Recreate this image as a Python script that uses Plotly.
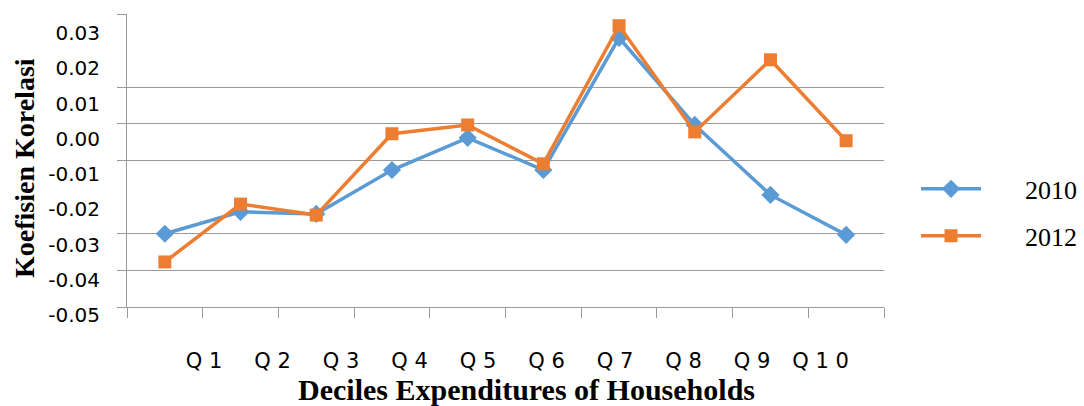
import plotly.graph_objects as go

# ---- data ----
categories = ["Q1", "Q2", "Q3", "Q4", "Q5", "Q6", "Q7", "Q8", "Q9", "Q10"]
x_tick_labels = ["Q 1", "Q 2", "Q 3", "Q 4", "Q 5", "Q 6", "Q 7", "Q 8", "Q 9", "Q 1 0"]
values_2010 = [-0.0300, -0.0240, -0.0246, -0.0126, -0.0038, -0.0126, 0.0235, -0.0003, -0.0194, -0.0303]
values_2012 = [-0.0377, -0.0219, -0.0249, -0.0027, -0.0003, -0.0109, 0.0268, -0.0022, 0.0175, -0.0046]
y_tick_values = [0.03, 0.02, 0.01, 0.00, -0.01, -0.02, -0.03, -0.04, -0.05]
y_tick_labels = ["0.03", "0.02", "0.01", "0.00", "-0.01", "-0.02", "-0.03", "-0.04", "-0.05"]
grid_values = [0.03, 0.01, 0.00, -0.01, -0.03, -0.04, -0.05]
series_names = ["2010", "2012"]

BLUE = "#5B9BD5"
ORANGE = "#ED7D31"
GRID = "#9A9A9A"
PAD = "\u00a0" * 6  # gap between legend symbol and text

fig = go.Figure()
fig.add_trace(go.Scatter(
    x=categories, y=values_2010, name=PAD + series_names[0], mode="lines+markers",
    line=dict(color=BLUE, width=3.5),
    marker=dict(symbol="diamond", size=14, color=BLUE),
    legendgroup="a",
))
fig.add_trace(go.Scatter(
    x=categories, y=values_2012, name=PAD + series_names[1], mode="lines+markers",
    line=dict(color=ORANGE, width=3.5),
    marker=dict(symbol="square", size=13, color=ORANGE),
    legendgroup="b",
))
# empty helper trace so the label-only axes (x2/y2) are drawn
fig.add_trace(go.Scatter(x=[], y=[], xaxis="x2", yaxis="y2", showlegend=False, hoverinfo="skip"))

fig.update_layout(
    width=1084, height=406,
    margin=dict(l=127, r=200, t=14, b=86, autoexpand=False),
    paper_bgcolor="white", plot_bgcolor="rgba(0,0,0,0)",
    xaxis=dict(
        type="category", categoryorder="array", categoryarray=categories,
        range=[-0.5, 9.5], showgrid=False, zeroline=False,
        showline=True, linecolor=GRID, linewidth=1,
        ticks="outside", tickson="boundaries", ticklen=10, tickcolor=GRID,
        showticklabels=False, anchor="y",
    ),
    yaxis=dict(
        domain=[13 / 306, 1],
        range=[-0.05, 0.03], tickvals=grid_values, showticklabels=False,
        showgrid=True, gridcolor=GRID, gridwidth=1, zeroline=False,
        showline=True, linecolor=GRID, linewidth=1,
        ticks="outside", ticklen=9, tickcolor=GRID, anchor="x",
    ),
    # label-only axes (labels in the reference sit offset from the gridlines)
    yaxis2=dict(
        domain=[0, 1], anchor="x2", side="left",
        range=[-0.05142, 0.03539], tickvals=y_tick_values, ticktext=y_tick_labels,
        showgrid=False, zeroline=False, showline=False, ticks="",
        ticklabelstandoff=26,
        tickfont=dict(family="DejaVu Sans", size=20, color="#000000"),
    ),
    xaxis2=dict(
        domain=[0, 1], anchor="y2", side="bottom", type="linear",
        range=[-1.124, 9.927], tickvals=list(range(len(x_tick_labels))), ticktext=x_tick_labels,
        showgrid=False, zeroline=False, showline=False, ticks="",
        ticklabelstandoff=26,
        tickfont=dict(family="DejaVu Sans", size=21, color="#000000"),
    ),
    legend=dict(
        x=1.0423, xanchor="left", y=0.505, yanchor="top",
        font=dict(family="Liberation Serif", size=26, color="#000000"),
        itemwidth=60, tracegroupgap=10, traceorder="grouped",
        bgcolor="rgba(0,0,0,0)",
    ),
    annotations=[
        dict(text="<b>Deciles Expenditures of Households</b>", xref="paper", yref="paper",
             x=(526.5 - 127) / 757, y=-(389 - 320) / 306, xanchor="center", yanchor="middle",
             showarrow=False, font=dict(family="Liberation Serif", size=30, color="#000000")),
        dict(text="<b>Koefisien Korelasi</b>", xref="paper", yref="paper",
             x=-(127 - 24) / 757, y=(320 - 168) / 306, xanchor="center", yanchor="middle",
             textangle=-90, showarrow=False,
             font=dict(family="Liberation Serif", size=28, color="#000000")),
    ],
)

fig.write_html("out.html", config={"displayModeBar": False},
               post_script="document.body.style.margin='0';")
